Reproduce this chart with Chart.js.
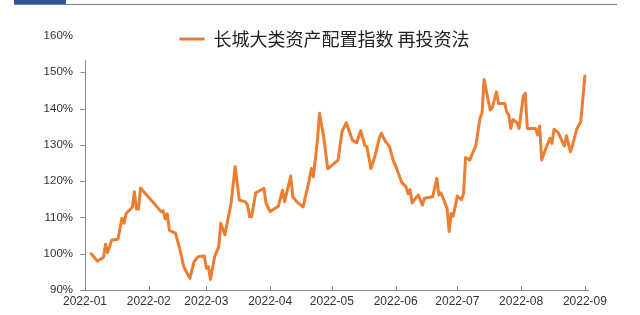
<!DOCTYPE html>
<html><head><meta charset="utf-8">
<script src="https://cdn.jsdelivr.net/npm/chart.js@4"></script>
<style>
html,body{margin:0;padding:0;background:#fff;}
#wrap{position:relative;width:640px;height:315px;overflow:hidden;}
#bar{position:absolute;left:14px;top:0;width:52px;height:4px;background:#2f5597;}
#rule{position:absolute;left:14px;top:4px;width:603px;height:1px;background:#6f7f99;}
</style></head><body>
<div id="wrap"><canvas id="c" width="640" height="315"></canvas><div id="bar"></div><div id="rule"></div></div>
<script>
const seriesLabel = '长城大类资产配置指数 再投资法';
const monthLabels = ['2022-01','2022-02','2022-03','2022-04','2022-05','2022-06','2022-07','2022-08','2022-09'];
const yTicks = [90,100,110,120,130,140,150,160];
const dates = [
 '2022-01-04','2022-01-07','2022-01-10','2022-01-11','2022-01-12','2022-01-14','2022-01-17','2022-01-19','2022-01-20','2022-01-21',
 '2022-01-24','2022-01-25','2022-01-26','2022-01-27','2022-01-28',
 '2022-02-07','2022-02-08','2022-02-09','2022-02-10','2022-02-11','2022-02-14','2022-02-16','2022-02-18','2022-02-21','2022-02-23',
 '2022-02-25','2022-02-28',
 '2022-03-01','2022-03-02','2022-03-03','2022-03-05','2022-03-07','2022-03-08','2022-03-10','2022-03-13','2022-03-15','2022-03-17',
 '2022-03-20','2022-03-21','2022-03-22','2022-03-23','2022-03-25','2022-03-28','2022-03-29','2022-03-30',
 '2022-04-01','2022-04-05','2022-04-07','2022-04-08','2022-04-11','2022-04-12','2022-04-14','2022-04-17','2022-04-20','2022-04-21',
 '2022-04-22','2022-04-24','2022-04-25','2022-04-27','2022-04-29',
 '2022-05-04','2022-05-06','2022-05-08','2022-05-11','2022-05-13','2022-05-15','2022-05-17','2022-05-18','2022-05-20','2022-05-22',
 '2022-05-24','2022-05-25','2022-05-27','2022-05-29','2022-05-31',
 '2022-06-01','2022-06-04','2022-06-06','2022-06-07','2022-06-08','2022-06-09','2022-06-12','2022-06-14','2022-06-15','2022-06-19',
 '2022-06-21','2022-06-22','2022-06-23','2022-06-26','2022-06-27','2022-06-28','2022-06-29',
 '2022-07-01','2022-07-03','2022-07-04','2022-07-05','2022-07-07','2022-07-10','2022-07-12','2022-07-13','2022-07-14','2022-07-16',
 '2022-07-17','2022-07-18','2022-07-20','2022-07-21','2022-07-24','2022-07-25','2022-07-26','2022-07-27','2022-07-28','2022-07-30',
 '2022-07-31',
 '2022-08-02','2022-08-03','2022-08-04','2022-08-08','2022-08-09','2022-08-10','2022-08-11','2022-08-13','2022-08-15','2022-08-16',
 '2022-08-17','2022-08-19','2022-08-21','2022-08-22','2022-08-23','2022-08-25','2022-08-26','2022-08-28','2022-08-30',
 '2022-09-01'
];
const values = [
 100.0,98.0,99.0,102.6,100.3,103.8,104.0,109.8,108.4,111.1,
 112.8,117.1,112.3,112.3,118.1,
 111.6,111.8,109.6,111.0,106.5,105.6,101.5,96.4,93.2,97.8,
 99.2,99.4,
 96.0,96.4,92.9,99.2,101.9,108.4,105.2,113.9,124.0,114.8,
 114.3,113.4,110.2,110.2,116.8,117.7,118.0,113.9,
 111.6,113.1,117.5,114.3,121.4,115.7,114.3,112.9,120.3,123.5,
 121.2,131.3,138.7,132.2,123.4,
 125.8,133.8,136.1,131.3,130.6,133.9,129.9,129.5,123.5,127.0,
 131.8,133.2,131.0,129.5,125.4,
 124.2,119.6,118.5,116.5,117.7,114.0,116.2,113.4,115.3,115.7,
 120.8,116.2,116.8,112.5,106.1,111.1,110.4,
 115.9,114.9,116.6,126.5,125.8,129.9,137.3,138.8,148.0,142.3,
 139.6,140.3,144.6,141.4,141.4,139.1,138.2,134.5,137.0,136.1,
 134.5,
 143.3,144.2,134.5,134.5,132.7,135.2,125.8,129.0,131.8,130.4,
 134.3,133.4,130.9,129.7,132.5,128.1,129.9,134.3,136.4,
 149.0
];

const base = Date.UTC(2022,0,1);
const dayOf = s => { const p = s.split('-').map(Number); return (Date.UTC(p[0], p[1]-1, p[2]) - base) / 86400000; };
const monthDays = monthLabels.map(m => dayOf(m + '-01'));
const points = dates.map((d, i) => ({x: dayOf(d), y: values[i]}));

const axisColor = '#8c8c8c';
const deco = {
  id: 'deco',
  beforeLayout(chart) {
    const lg = chart.legend;
    if (lg && !lg._patched) {
      const fit = lg.fit;
      lg.fit = function() { fit.call(this); this.height = 12; };
      lg._patched = true;
    }
  },
  afterLayout(chart) {
    const lg = chart.legend;
    if (lg) {
      lg.left -= 12; lg.right -= 12;
      lg.bottom = lg.top + 40; lg.height = 40;
    }
  },
  beforeDatasetsDraw(chart) {
    const {ctx, scales: {x, y}} = chart;
    ctx.save();
    ctx.strokeStyle = axisColor;
    ctx.lineWidth = 1;
    const ax = Math.round(x.left) + 0.5;
    const yb = y.getPixelForValue(y.min);
    const yt = y.getPixelForValue(153.3);
    ctx.beginPath();
    ctx.moveTo(ax, yt); ctx.lineTo(ax, yb);
    yTicks.filter(v => v <= 150).forEach(v => {
      const py = Math.round(y.getPixelForValue(v)) + 0.5;
      ctx.moveTo(ax - 5, py); ctx.lineTo(ax, py);
    });
    monthDays.forEach(d => {
      const px = Math.round(x.getPixelForValue(d)) + 0.5;
      ctx.moveTo(px, yb); ctx.lineTo(px, yb - 4);
    });
    ctx.stroke();
    ctx.restore();
  }
};

const tickFont = {family: "'Liberation Sans', Arial, sans-serif", size: 12};

new Chart(document.getElementById('c'), {
  type: 'line',
  data: {
    datasets: [{
      label: seriesLabel,
      data: points,
      borderColor: '#ED7D31',
      backgroundColor: '#ED7D31',
      borderWidth: 3,
      pointRadius: 0,
      tension: 0,
      borderJoinStyle: 'round',
      borderCapStyle: 'round'
    }]
  },
  options: {
    responsive: false,
    animation: false,
    devicePixelRatio: 1,
    layout: {padding: {top: 24, right: 52, bottom: 0, left: 0}},
    plugins: {
      legend: {
        display: true, position: 'top', fullSize: false, align: 'center',
        labels: {
          usePointStyle: true, pointStyle: 'line', pointStyleWidth: 25, padding: 6,
          color: '#222',
          font: {family: "'Noto Sans CJK SC', sans-serif", size: 18}
        }
      },
      tooltip: {enabled: false}
    },
    scales: {
      x: {
        type: 'linear', min: 0, max: 244.5,
        grid: {display: false, drawTicks: false, tickLength: 0},
        border: {display: true, color: axisColor, width: 1},
        afterBuildTicks: s => { s.ticks = monthDays.map(v => ({value: v})); },
        ticks: {autoSkip: false, maxRotation: 0, padding: 4, color: '#333', font: tickFont,
          callback: (v, i) => monthLabels[i]},
        afterFit: s => { s.height = 25; }
      },
      y: {
        min: 90, max: 160,
        grid: {display: false, drawTicks: false, tickLength: 0},
        border: {display: false},
        afterBuildTicks: s => { s.ticks = yTicks.map(v => ({value: v})); },
        ticks: {padding: 12, color: '#333', font: {family: "'Liberation Sans', Arial, sans-serif", size: 11.5},
          callback: v => v + '%'},
        afterFit: s => { s.width = 85; }
      }
    }
  },
  plugins: [deco]
});
</script>
</body></html>
